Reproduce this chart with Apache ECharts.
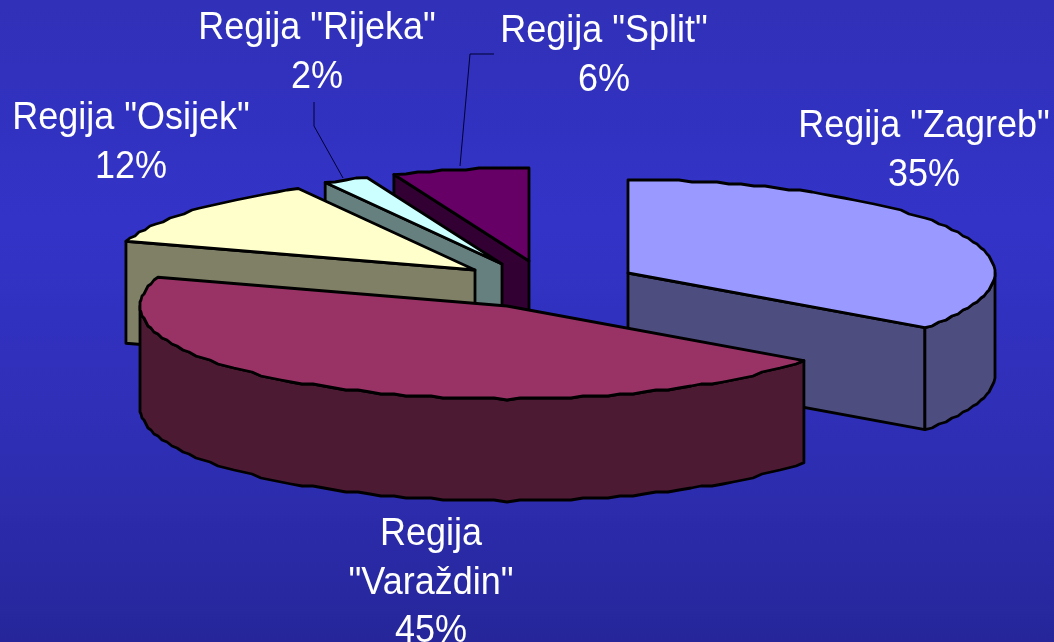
<!DOCTYPE html>
<html>
<head>
<meta charset="utf-8">
<style>html,body{margin:0;padding:0;background:#3030b8}#c{width:1054px;height:642px}</style>
<script src="https://cdn.jsdelivr.net/npm/echarts@6/dist/echarts.min.js"></script>
</head>
<body>
<div id="c"></div>
<script>
// Chart data
const categories = ['Regija "Zagreb"', 'Regija\n"Varaždin"', 'Regija "Osijek"', 'Regija "Rijeka"', 'Regija "Split"'];
const shares = [35, 45, 12, 2, 6];

// Appearance
const topColors = ['#9999FF', '#993366', '#FFFFCC', '#CCFFFF', '#660066'];
const wallColors = ['#4D4D80', '#4D1A33', '#808066', '#668080', '#330033'];
const apexes = [[628, 273], [507, 306], [475, 270], [502, 264], [529, 261]];
const labelCentres = [[924, 151], [431, 583], [131, 143], [317, 53], [604, 56]];
const drawOrder = [4, 3, 2, 0, 1];
const rx = 367, ry = 93, depth = 102;
const leaders = { 3: [[314, 102], [314, 126], [343, 178]], 4: [[494, 54], [470, 54], [460, 166]] };

const total = shares.reduce((a, b) => a + b, 0);
const starts = shares.map((_, i) => shares.slice(0, i).reduce((a, b) => a + b, 0) / total * 360);
const rad = d => d * Math.PI / 180;

function arc(c, a0, a1, dy) {
  const pts = [];
  const n = Math.max(1, Math.ceil((a1 - a0) / 2));
  for (let k = 0; k <= n; k++) {
    const a = rad(a0 + (a1 - a0) * k / n);
    let x = c[0] + rx * Math.sin(a), y = c[1] - ry * Math.cos(a) + dy;
    if (k > 0 && k < n) { x = Math.round(x); y = Math.round(y / 2) * 2; }
    pts.push([x, y]);
  }
  return pts;
}

function poly(api, pts, fill) {
  return { type: 'polygon', shape: { points: pts.map(p => api.coord(p)) },
    style: { fill, stroke: '#000', lineWidth: 2.8, lineJoin: 'round' } };
}

function renderSlice(params, api) {
  const i = api.value(0);
  const a0 = starts[i], a1 = a0 + api.value(1) / total * 360;
  const c = apexes[i];
  const edge = a => [c[0] + rx * Math.sin(rad(a)), c[1] - ry * Math.cos(rad(a))];
  const children = [];
  const radial = a => {
    const e = edge(a);
    children.push(poly(api, [c, e, [e[0], e[1] + depth], [c[0], c[1] + depth]], wallColors[i]));
  };
  if (Math.sin(rad(a0)) < -1e-6) radial(a0);
  if (Math.sin(rad(a1)) > 1e-6) radial(a1);
  const v0 = Math.max(a0, 90), v1 = Math.min(a1, 270);
  if (v1 > v0) {
    children.push(poly(api, arc(c, v0, v1, 0).concat(arc(c, v0, v1, depth).reverse()), wallColors[i]));
  }
  children.push(poly(api, [c].concat(arc(c, a0, a1, 0)), topColors[i]));
  if (leaders[i]) {
    children.push({ type: 'polyline', shape: { points: leaders[i].map(p => api.coord(p)) },
      style: { fill: null, stroke: '#000033', lineWidth: 1 } });
  }
  const lc = api.coord(labelCentres[i]);
  children.push({ type: 'text', x: lc[0], y: lc[1], scaleX: 1, scaleY: 1.08, style: {
    text: categories[i] + '\n' + api.value(1) + '%',
    x: 0, y: 0, fill: '#fff', align: 'center', verticalAlign: 'middle',
    font: '36px "Liberation Sans", Arial, sans-serif', lineHeight: 45 } });
  return { type: 'group', children };
}

const chart = echarts.init(document.getElementById('c'), null, { renderer: 'canvas' });
chart.setOption({
  animation: false,
  backgroundColor: { type: 'linear', x: 0, y: 0, x2: 0, y2: 1, colorStops: [
    { offset: 0, color: '#3030B8' }, { offset: 0.35, color: '#3333C8' }, { offset: 0.7, color: '#2E2EB4' }, { offset: 1, color: '#26269A' }] },
  grid: { left: 0, right: 0, top: 0, bottom: 0 },
  xAxis: { type: 'value', min: 0, max: 1054, show: false },
  yAxis: { type: 'value', min: 0, max: 642, inverse: true, show: false },
  series: [{
    type: 'custom',
    renderItem: renderSlice,
    clip: false,
    encode: { x: 0, y: 1 },
    data: drawOrder.map(i => [i, shares[i]])
  }]
});
</script>
</body>
</html>
